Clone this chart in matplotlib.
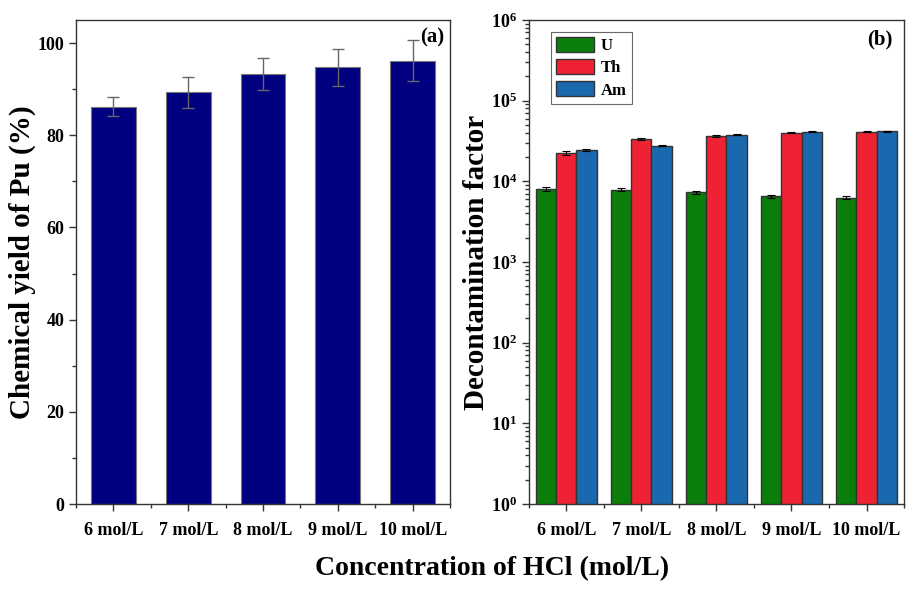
import numpy as np
import matplotlib
matplotlib.use("Agg")
import matplotlib.pyplot as plt
from matplotlib.ticker import MultipleLocator, LogLocator, NullFormatter

plt.rcParams["font.family"] = ["Liberation Serif", "DejaVu Serif"]
plt.rcParams["font.weight"] = "bold"
plt.rcParams["mathtext.fontset"] = "custom"
plt.rcParams["mathtext.rm"] = "Liberation Serif:bold"
plt.rcParams["mathtext.bf"] = "Liberation Serif:bold"

# ---- data ------------------------------------------------------------------
conc = ["6 mol/L", "7 mol/L", "8 mol/L", "9 mol/L", "10 mol/L"]
yield_pu = [86.2, 89.3, 93.3, 94.7, 96.2]
yield_err = [2.1, 3.3, 3.5, 4.1, 4.5]

df_u = [8100, 7900, 7300, 6500, 6250]
df_th = [22500, 33600, 36600, 40200, 41000]
df_am = [24300, 27700, 38000, 41000, 42000]
err_u = [450, 300, 250, 300, 250]
err_th = [1300, 900, 1000, 700, 500]
err_am = [600, 500, 700, 700, 600]
elements = ["U", "Th", "Am"]
colors = ["#0a7d0a", "#ee2233", "#1a68ad"]

# ---- figure ----------------------------------------------------------------
fig = plt.figure(figsize=(9.07, 5.91), dpi=100)
ax1 = fig.add_axes([0.0838, 0.1472, 0.4124, 0.819])
ax2 = fig.add_axes([0.5832, 0.1472, 0.4135, 0.819])
x = np.arange(len(conc))
spine_col = "#333333"

# (a) chemical yield
ax1.bar(x, yield_pu, width=0.6, color="#000080", edgecolor="#777777", lw=0.8)
ax1.errorbar(x, yield_pu, yerr=yield_err, fmt="none", ecolor="#666666",
             elinewidth=1.0, capsize=4, capthick=1.0)
ax1.set_xlim(-0.5, 4.5)
ax1.set_ylim(0, 105)
ax1.yaxis.set_major_locator(MultipleLocator(20))
ax1.yaxis.set_minor_locator(MultipleLocator(10))
ax1.set_ylabel("Chemical yield of Pu (%)", fontsize=21, fontweight="bold", labelpad=1)
ax1.text(0.985, 0.985, "(a)", transform=ax1.transAxes, ha="right", va="top",
         fontsize=15, fontweight="bold")

# (b) decontamination factor
w = 0.267
for i, (vals, errs) in enumerate(zip([df_u, df_th, df_am], [err_u, err_th, err_am])):
    ax2.bar(x + (i - 1) * w, vals, width=w, color=colors[i], edgecolor=spine_col,
            lw=1.0, label=elements[i])
    ax2.errorbar(x + (i - 1) * w, vals, yerr=errs, fmt="none", ecolor="black",
                 elinewidth=0.8, capsize=3, capthick=0.8)
ax2.set_yscale("log")
ax2.set_xlim(-0.5, 4.5)
ax2.set_ylim(1, 1e6)
ax2.yaxis.set_major_locator(LogLocator(base=10, numticks=10))
ax2.yaxis.set_minor_locator(LogLocator(base=10, subs=np.arange(2, 10), numticks=20))
ax2.yaxis.set_minor_formatter(NullFormatter())
ax2.set_ylabel("Decontamination factor", fontsize=21, fontweight="bold", labelpad=1)
ax2.text(0.97, 0.98, "(b)", transform=ax2.transAxes, ha="right", va="top",
         fontsize=15, fontweight="bold")
leg = ax2.legend(loc="upper left", bbox_to_anchor=(0.059, 0.975), fontsize=12,
                 frameon=True, fancybox=False, edgecolor="#444444",
                 handlelength=2.3, handleheight=1.0, borderpad=0.3,
                 labelspacing=0.3, handletextpad=0.4, borderaxespad=0)
leg.get_frame().set_linewidth(0.8)

for ax in (ax1, ax2):
    ax.set_xticks(x)
    ax.set_xticklabels(conc)
    ax.set_xticks(np.arange(-0.5, 4.6, 1.0), minor=True)
    ax.tick_params(axis="both", which="major", direction="out", length=5,
                   width=1, labelsize=13, colors=spine_col, labelcolor="black")
    ax.tick_params(axis="both", which="minor", direction="out", length=3,
                   width=1, colors=spine_col)
    ax.tick_params(axis="x", which="major", pad=8)
    for s in ax.spines.values():
        s.set_color(spine_col)
        s.set_linewidth(1.0)
    for lab in ax.get_xticklabels() + ax.get_yticklabels():
        lab.set_fontweight("bold")

fig.text(0.542, 0.038, "Concentration of HCl (mol/L)", ha="center", va="center",
         fontsize=20, fontweight="bold")

fig.savefig("out.png", dpi=100)
